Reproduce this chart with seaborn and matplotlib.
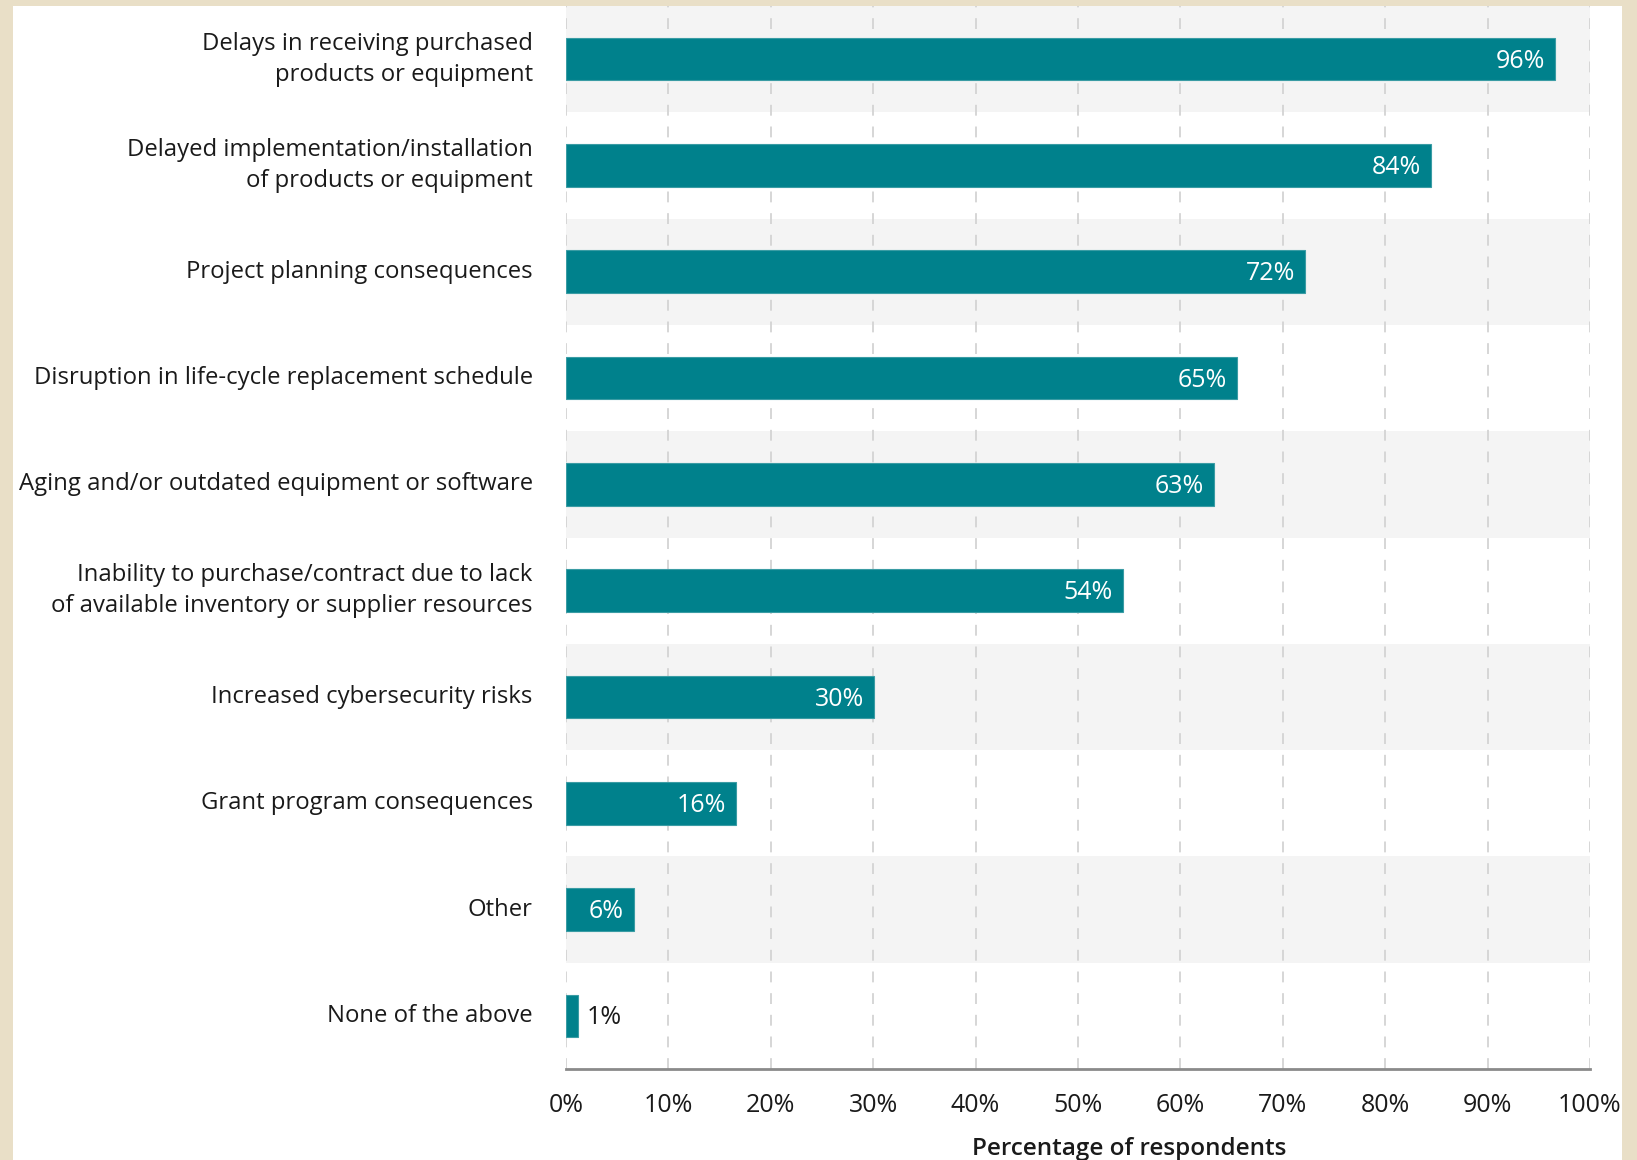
import matplotlib
matplotlib.use("Agg")
import matplotlib.pyplot as plt
import seaborn as sns
import pandas as pd
from matplotlib.patches import Rectangle

categories = [
    "Delays in receiving purchased\nproducts or equipment",
    "Delayed implementation/installation\nof products or equipment",
    "Project planning consequences",
    "Disruption in life-cycle replacement schedule",
    "Aging and/or outdated equipment or software",
    "Inability to purchase/contract due to lack\nof available inventory or supplier resources",
    "Increased cybersecurity risks",
    "Grant program consequences",
    "Other",
    "None of the above",
]
values = [96.6, 84.5, 72.2, 65.5, 63.3, 54.4, 30.1, 16.6, 6.6, 1.2]
value_labels = ["96%", "84%", "72%", "65%", "63%", "54%", "30%", "16%", "6%", "1%"]
x_ticks = [0, 10, 20, 30, 40, 50, 60, 70, 80, 90, 100]
x_tick_labels = [f"{t}%" for t in x_ticks]
x_label = "Percentage of respondents"

sns.set_theme(style="white")
plt.rcParams['font.family'] = ['Open Sans', 'DejaVu Sans']

W, H = 1637, 1160
fig = plt.figure(figsize=(W / 100, H / 100), dpi=100)
fig.patch.set_facecolor("#E9DFC7")
fig.patches.append(Rectangle((13 / W, 0), (1622 - 13) / W, 1 - 6 / H,
                             transform=fig.transFigure, facecolor="white",
                             edgecolor="none", zorder=-10))

ax = fig.add_axes([566 / W, 1 - 1069 / H, (1590 - 566) / W, (1069 - 6) / H])
ax.set_facecolor("none")
ax.set_zorder(1)

df = pd.DataFrame({"category": categories, "value": values})
teal = "#00818C"
sns.barplot(data=df, x="value", y="category", orient="h", color=teal,
            width=0.4, saturation=1, ax=ax, zorder=3, edgecolor="#3A9CA4", linewidth=0.8)

n = len(categories)
for i in range(0, n, 2):
    ax.axhspan(i - 0.5, i + 0.5, color="#F4F4F4", zorder=0, lw=0)

ax.set_xlim(0, 100)
ax.set_ylim(n - 0.5, -0.5)
ax.set_xticks(x_ticks)
ax.set_xticklabels(x_tick_labels)
for t in x_ticks:
    ax.axvline(t, color="#D3D3D3", lw=1.3, ls=(0, (6, 6)), zorder=1)

for i, (v, lab) in enumerate(zip(values, value_labels)):
    if v > 4:
        ax.text(v - 1.0, i + 0.02, lab, ha="right", va="center", color="white",
                fontsize=18, zorder=4)
    else:
        ax.text(v + 0.8, i + 0.02, lab, ha="left", va="center", color="#1a1a1a",
                fontsize=18, zorder=4)

for s in ["top", "right", "left"]:
    ax.spines[s].set_visible(False)
ax.spines["bottom"].set_color("#8A8A8A")
ax.spines["bottom"].set_linewidth(2)
ax.spines["bottom"].set_zorder(5)

ax.tick_params(axis="y", length=0, pad=24, labelsize=17.2, labelcolor="#1a1a1a")
ax.tick_params(axis="x", length=0, pad=17, labelsize=18, labelcolor="#1a1a1a")
for lab in ax.get_yticklabels():
    lab.set_horizontalalignment("right")
    lab.set_verticalalignment("center")
    lab.set_linespacing(1.4)
ax.set_ylabel("")
ax.set_xlabel(x_label, fontsize=17.5, fontweight="semibold", color="#1a1a1a")
ax.xaxis.set_label_coords(0.55, -0.064)

fig.savefig("out.png", dpi=100, facecolor=fig.get_facecolor())
